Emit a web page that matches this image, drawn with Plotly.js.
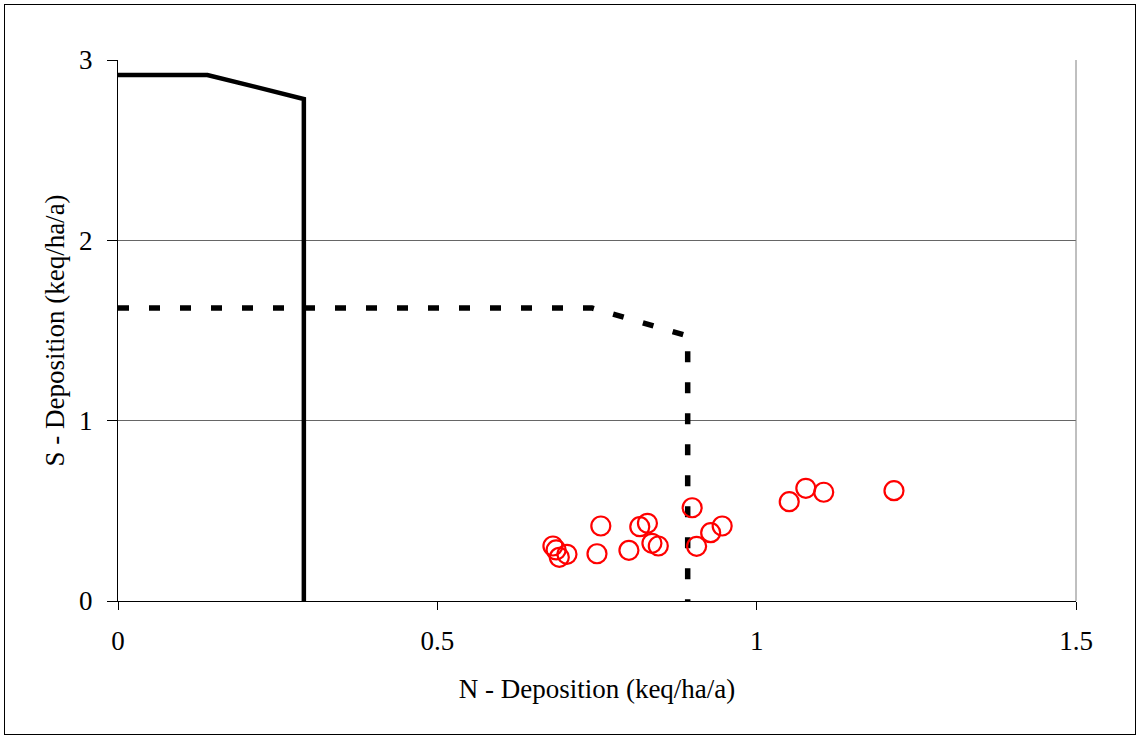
<!DOCTYPE html>
<html>
<head>
<meta charset="utf-8">
<script src="https://cdn.plot.ly/plotly-3.0.1.min.js"></script>
<style>
html,body{margin:0;padding:0;background:#fff;}
#wrap{position:relative;width:1139px;height:738px;}
#chart{width:1139px;height:738px;}
#frame{position:absolute;left:4px;top:4px;width:1132px;height:731px;border:1px solid #000;box-sizing:border-box;pointer-events:none;}
</style>
</head>
<body>
<div id="wrap"><div id="chart"></div><div id="frame"></div></div>
<script>
// Critical load function 1 (solid)
const clf1N = [0, 0.14, 0.291, 0.291];
const clf1S = [2.917, 2.917, 2.784, 0];
// Critical load function 2 (dashed)
const clf2N = [0, 0.742, 0.892, 0.892];
const clf2S = [1.625, 1.625, 1.47, 0];
// Deposition points
const depN = [0.681, 0.686, 0.703, 0.691, 0.756, 0.750, 0.800, 0.817, 0.829, 0.836, 0.846, 0.899, 0.906, 0.928, 0.946, 1.051, 1.077, 1.105, 1.215];
const depS = [0.305, 0.283, 0.259, 0.242, 0.416, 0.262, 0.281, 0.412, 0.431, 0.320, 0.305, 0.517, 0.303, 0.379, 0.416, 0.551, 0.625, 0.603, 0.612];
const xTicks = [0, 0.5, 1, 1.5];
const xTickText = ['0', '0.5', '1', '1.5'];
const yTicks = [0, 1, 2, 3];
const yTickText = ['0', '1', '2', '3'];

const font = {family: 'Liberation Serif, Times New Roman, serif', size: 27, color: '#000'};

const traces = [
  {x: clf1N, y: clf1S, mode: 'lines', line: {color: '#000', width: 4.5}, showlegend: false, hoverinfo: 'skip'},
  {x: clf2N, y: clf2S, mode: 'lines', line: {color: '#000', width: 5.5, dash: '11px,20px'}, showlegend: false, hoverinfo: 'skip'},
  {x: depN, y: depS, mode: 'markers', marker: {symbol: 'circle-open', size: 19, color: '#ff0000', line: {width: 2.2, color: '#ff0000'}}, showlegend: false}
];

const layout = {
  width: 1139, height: 738,
  margin: {l: 118, r: 63, t: 60, b: 137},
  paper_bgcolor: '#fff', plot_bgcolor: '#fff',
  font: font,
  showlegend: false,
  xaxis: {
    range: [0, 1.5], tickvals: xTicks, ticktext: xTickText,
    showgrid: false, zeroline: false,
    showline: true, linecolor: '#000', linewidth: 1,
    ticks: 'outside', ticklen: 8, tickcolor: '#000',
    ticklabelstandoff: 8,
    tickfont: font,
    title: {text: 'N - Deposition (keq/ha/a)', font: font, standoff: 23}
  },
  yaxis: {
    range: [0, 3], tickvals: yTicks, ticktext: yTickText,
    showgrid: true, gridcolor: '#000', gridwidth: 0.6,
    zeroline: false,
    showline: true, linecolor: '#000', linewidth: 1,
    ticks: 'outside', ticklen: 10, tickcolor: '#000',
    ticklabelstandoff: 9,
    tickfont: font,
    title: {text: 'S - Deposition (keq/ha/a)', font: font, standoff: 6}
  },
  shapes: [
    {type: 'line', xref: 'paper', yref: 'paper', x0: 1, x1: 1, y0: 0, y1: 1, line: {color: '#808080', width: 1}}
  ]
};

Plotly.newPlot('chart', traces, layout, {displayModeBar: false, staticPlot: true});
</script>
</body>
</html>
